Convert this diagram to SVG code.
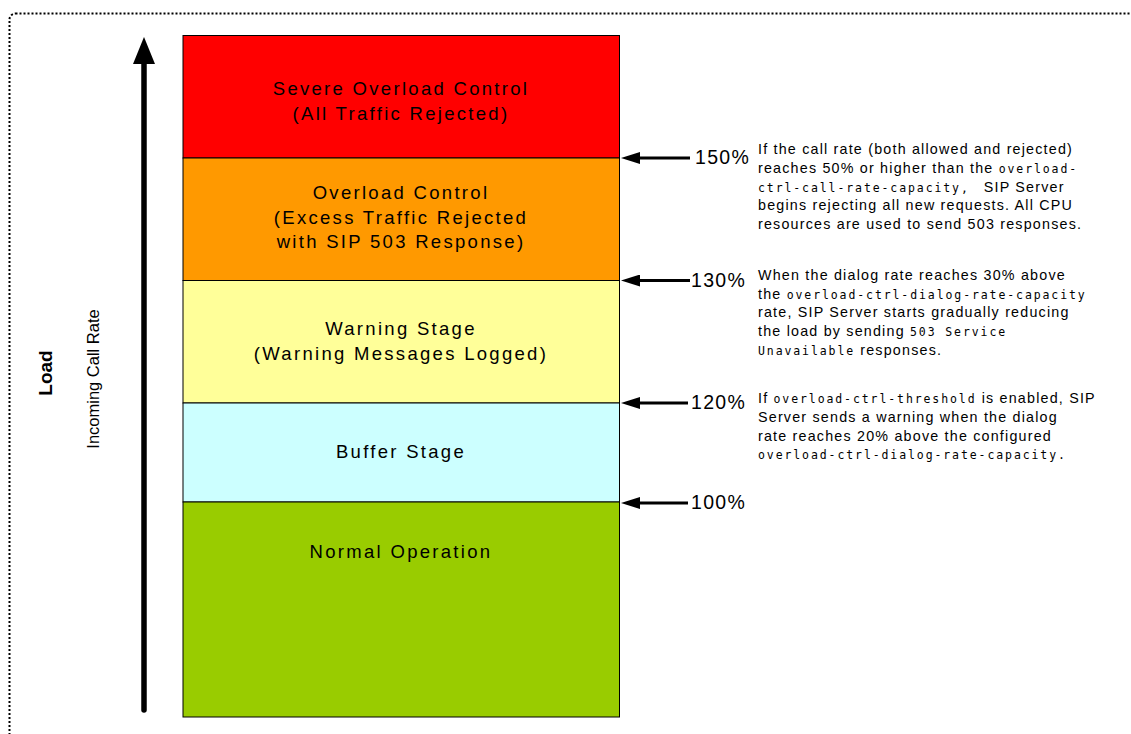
<svg xmlns="http://www.w3.org/2000/svg" width="1131" height="734" viewBox="0 0 1131 734">
  <style>
    .frame { fill: none; stroke: #000; stroke-width: 2; stroke-dasharray: 2 2; }
    .stage { stroke: #000; stroke-width: 1; }
    .stage-label { font-family: "Liberation Sans", Arial, sans-serif; font-size: 18.5px; letter-spacing: 2.3px; text-anchor: middle; fill: #000; }
    .pct { font-family: "Liberation Sans", Arial, sans-serif; font-size: 19.5px; letter-spacing: 1.3px; fill: #000; }
    .note { font-family: "Liberation Sans", Arial, sans-serif; font-size: 14.3px; letter-spacing: 1.2px; fill: #000; }
    .mono { font-family: "DejaVu Sans Mono", "Liberation Mono", monospace; font-size: 11.5px; letter-spacing: 1.9px; }
    .pointer { stroke: #000; stroke-width: 3; fill: none; }
    .axis-title { font-family: "Liberation Sans", Arial, sans-serif; font-size: 19px; font-weight: bold; fill: #000; text-anchor: middle; }
    .axis-sub { font-family: "Liberation Sans", Arial, sans-serif; font-size: 16.5px; fill: #000; text-anchor: middle; }
  </style>
  <defs>
    <marker id="head" viewBox="0 0 19 12" refX="0" refY="6" markerUnits="userSpaceOnUse" markerWidth="19" markerHeight="12" orient="auto">
      <path d="M0,0 L19,6 L0,12 z" fill="#000"/>
    </marker>
  </defs>

  <rect width="1131" height="734" fill="#fff"/>

  <!-- dotted outer frame, running off the right and bottom edges -->
  <rect class="frame" x="9.5" y="13.5" width="1200" height="800" rx="6" ry="6"/>

  <!-- load axis -->
  <g id="load-axis">
    <line x1="144" y1="710" x2="144" y2="62" stroke="#000" stroke-width="5.5" stroke-linecap="round"/>
    <path d="M144,37 L155,64 L133,64 z" fill="#000"/>
    <text class="axis-title" transform="translate(52,373) rotate(-90)">Load</text>
    <text class="axis-sub" transform="translate(99,379) rotate(-90)">Incoming Call Rate</text>
  </g>

  <!-- stacked load stages -->
  <g id="stage-severe">
    <rect class="stage" x="183" y="35.5" width="436.5" height="122.5" fill="#ff0000"/>
    <text class="stage-label" x="401" y="95">Severe Overload Control</text>
    <text class="stage-label" x="401" y="120">(All Traffic Rejected)</text>
  </g>
  <g id="stage-overload">
    <rect class="stage" x="183" y="158" width="436.5" height="122.5" fill="#ff9900"/>
    <text class="stage-label" x="401" y="199">Overload Control</text>
    <text class="stage-label" x="401" y="223.5">(Excess Traffic Rejected</text>
    <text class="stage-label" x="401" y="248">with SIP 503 Response)</text>
  </g>
  <g id="stage-warning">
    <rect class="stage" x="183" y="280.5" width="436.5" height="122.5" fill="#ffff99"/>
    <text class="stage-label" x="401" y="335">Warning Stage</text>
    <text class="stage-label" x="401" y="360">(Warning Messages Logged)</text>
  </g>
  <g id="stage-buffer">
    <rect class="stage" x="183" y="403" width="436.5" height="99" fill="#ccffff"/>
    <text class="stage-label" x="401" y="458">Buffer Stage</text>
  </g>
  <g id="stage-normal">
    <rect class="stage" x="183" y="502" width="436.5" height="215" fill="#99cc00"/>
    <text class="stage-label" x="401" y="558">Normal Operation</text>
  </g>

  <!-- threshold pointers -->
  <g id="connectors">
    <line class="pointer" x1="690" y1="158" x2="640" y2="158" marker-end="url(#head)"/>
    <line class="pointer" x1="690" y1="280.5" x2="640" y2="280.5" marker-end="url(#head)"/>
    <line class="pointer" x1="688" y1="403" x2="640" y2="403" marker-end="url(#head)"/>
    <line class="pointer" x1="688" y1="503" x2="640" y2="503" marker-end="url(#head)"/>
  </g>

  <g id="threshold-150">
    <text class="pct" x="695" y="164">150%</text>
    <text class="note" x="758">
      <tspan x="758" y="154">If the call rate (both allowed and rejected)</tspan>
      <tspan x="758" y="173">reaches 50% or higher than the <tspan class="mono">overload-</tspan></tspan>
      <tspan x="758" y="191.5"><tspan class="mono">ctrl-call-rate-capacity,</tspan><tspan dx="14">SIP Server</tspan></tspan>
      <tspan x="758" y="210">begins rejecting all new requests. All CPU</tspan>
      <tspan x="758" y="229">resources are used to send 503 responses.</tspan>
    </text>
  </g>

  <g id="threshold-130">
    <text class="pct" x="691" y="287">130%</text>
    <text class="note">
      <tspan x="758" y="280">When the dialog rate reaches 30% above</tspan>
      <tspan x="758" y="298.5">the <tspan class="mono">overload-ctrl-dialog-rate-capacity</tspan></tspan>
      <tspan x="758" y="317">rate, SIP Server starts gradually reducing</tspan>
      <tspan x="758" y="336">the load by sending <tspan class="mono">503 Service</tspan></tspan>
      <tspan x="758" y="354.5"><tspan class="mono">Unavailable</tspan> responses.</tspan>
    </text>
  </g>

  <g id="threshold-120">
    <text class="pct" x="691" y="409">120%</text>
    <text class="note">
      <tspan x="758" y="403">If <tspan class="mono">overload-ctrl-threshold</tspan> is enabled, SIP</tspan>
      <tspan x="758" y="422">Server sends a warning when the dialog</tspan>
      <tspan x="758" y="440.5">rate reaches 20% above the configured</tspan>
      <tspan x="758" y="459"><tspan class="mono">overload-ctrl-dialog-rate-capacity.</tspan></tspan>
    </text>
  </g>

  <g id="threshold-100">
    <text class="pct" x="691" y="509">100%</text>
  </g>
</svg>
